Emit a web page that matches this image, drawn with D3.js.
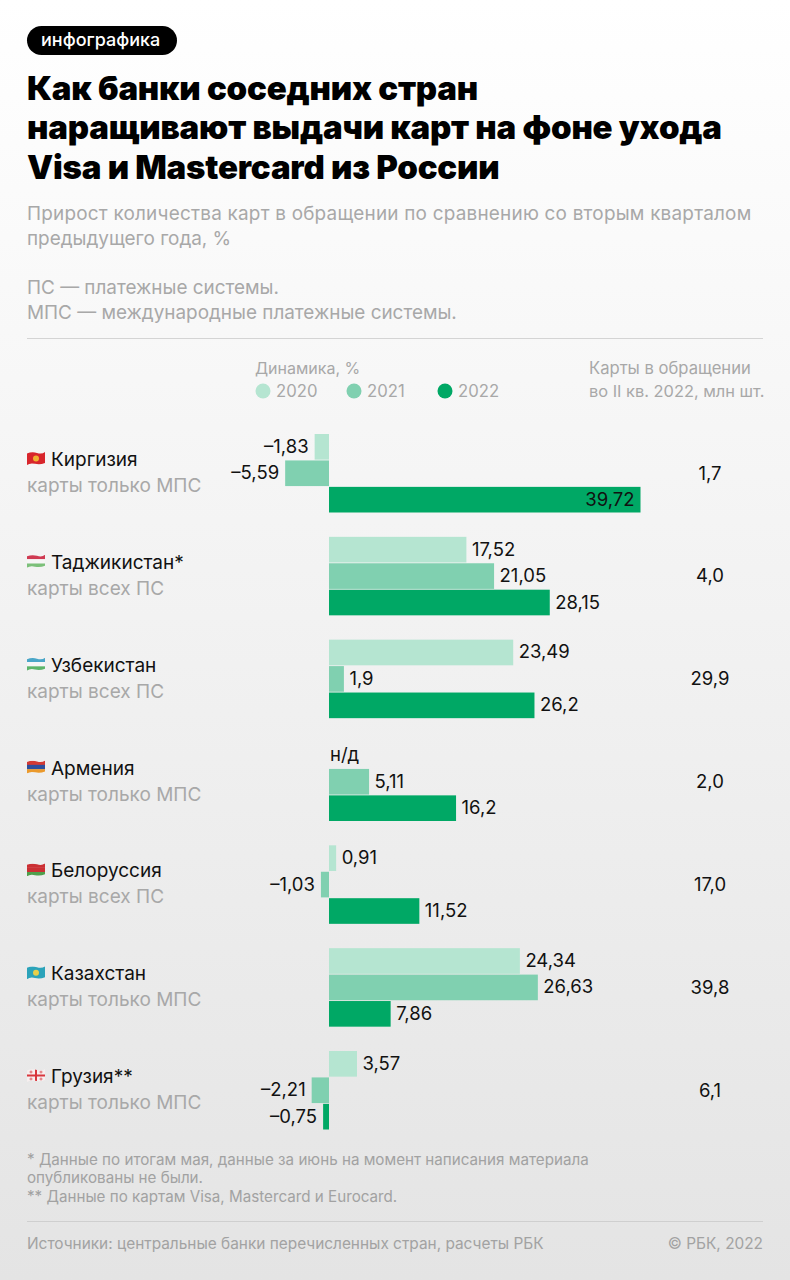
<!DOCTYPE html>
<html>
<head>
<meta charset="utf-8">
<script src="https://cdn.jsdelivr.net/npm/d3@7"></script>
<style>
html, body { margin: 0; padding: 0; background: #fff; }
svg { display: block; }
text { font-family: Inter, "Noto Sans", sans-serif; }
</style>
</head>
<body>
<div id="chart"></div>
<script>
// данные
var countries = ["Киргизия", "Таджикистан*", "Узбекистан", "Армения", "Белоруссия", "Казахстан", "Грузия**"];
var cardTypes = ["карты только МПС", "карты всех ПС", "карты всех ПС", "карты только МПС", "карты всех ПС", "карты только МПС", "карты только МПС"];
var years = ["2020", "2021", "2022"];
var values2020 = [-1.83, 17.52, 23.49, null, 0.91, 24.34, 3.57];
var values2021 = [-5.59, 21.05, 1.9, 5.11, -1.03, 26.63, -2.21];
var values2022 = [39.72, 28.15, 26.2, 16.2, 11.52, 7.86, -0.75];
var cardsInUse = ["1,7", "4,0", "29,9", "2,0", "17,0", "39,8", "6,1"];
var yearColors = ["#b5e5d1", "#80d0b0", "#00a865"];

var W = 790, H = 1280;

var svg = d3.select("#chart").append("svg")
    .attr("width", W)
    .attr("height", H);

var defs = svg.append("defs");

/* фон с градиентом */
var grad = defs.append("linearGradient")
    .attr("id", "bg")
    .attr("x1", 0).attr("y1", 0).attr("x2", 0).attr("y2", 1);
grad.append("stop").attr("offset", "0%").attr("stop-color", "#ffffff");
grad.append("stop").attr("offset", "100%").attr("stop-color", "#e4e4e4");
svg.append("rect").attr("width", W).attr("height", H).attr("fill", "url(#bg)");

/* волнистый контур флага */
defs.append("clipPath").attr("id", "flagWave").append("path")
    .attr("d", "M0 1.5 Q5 -0.5 10 1 T18 0 L18 11 Q13 13 8 11.8 T0 13 Z");

function label(x, y, str, size, color, weight, anchor) {
    return svg.append("text")
        .attr("x", x).attr("y", y)
        .attr("font-size", size)
        .attr("fill", color)
        .attr("font-weight", weight || 400)
        .attr("text-anchor", anchor || "start")
        .text(str);
}

/* плашка */
svg.append("rect").attr("x", 27).attr("y", 26).attr("width", 150).attr("height", 29).attr("rx", 14.5).attr("fill", "#000");
label(41, 46, "инфографика", 18, "#fff", 500);

/* заголовок */
["Как банки соседних стран", "наращивают выдачи карт на фоне ухода", "Visa и Mastercard из России"].forEach(function (t, i) {
    label(27, 99.5 + i * 39.5, t, 33, "#000", 900).attr("letter-spacing", -0.2);
});

/* подзаголовок */
var grey = "#a8a8a8";
label(27, 220, "Прирост количества карт в обращении по сравнению со вторым кварталом", 18.9, grey).attr("letter-spacing", 0.23);
label(27, 245, "предыдущего года, %", 18.9, grey);
label(27, 294, "ПС — платежные системы.", 18.9, grey);
label(27, 319, "МПС — международные платежные системы.", 18.9, grey);

svg.append("line").attr("x1", 27).attr("x2", 763).attr("y1", 338.5).attr("y2", 338.5).attr("stroke", "#d4d4d4");

/* легенда */
label(255, 374, "Динамика, %", 16, grey);
var legendX = d3.scalePoint().domain(years).range([263, 445]);
var legend = svg.selectAll(".lg").data(years).enter().append("g").attr("class", "lg");
legend.append("circle")
    .attr("cx", function (d) { return legendX(d); })
    .attr("cy", 391)
    .attr("r", 7.5)
    .attr("fill", function (d, i) { return yearColors[i]; });
legend.append("text")
    .attr("x", function (d) { return legendX(d) + 13; })
    .attr("y", 397)
    .attr("font-size", 16.7)
    .attr("fill", grey)
    .text(function (d) { return d; });

label(589, 374, "Карты в обращении", 16.6, grey);
label(589, 397, "во II кв. 2022, млн шт.", 16.4, grey);

/* шкалы */
var x = d3.scaleLinear().domain([0, 39.72]).range([329, 640.5]);
var rowY = d3.scalePoint().domain(countries).range([434, 1051]);
var barY = d3.scaleBand().domain(years).range([0, 78.5]).paddingInner(0.03);
var fmt = function (v) { return (v < 0 ? "–" : "") + String(Math.abs(v)).replace(".", ","); };

/* флаги: полосы сверху вниз */
var flagStripes = [
    ["#d8262c"],
    ["#cf3a52", "#f6f6f6", "#7cc07a"],
    ["#4aa6c8", "#f6f6f6", "#5cb56a"],
    ["#d33a34", "#2d4f9e", "#eb9a2c"],
    ["#cb2f33", "#cb2f33", "#4f9f4c"],
    ["#2ba3ba"],
    ["#f7efef"]
];

var rows = svg.selectAll(".row").data(countries).enter().append("g").attr("class", "row");

rows.each(function (c, i) {
    var g = d3.select(this);
    var top = rowY(c);
    var stripes = flagStripes[i];
    var h = 13 / stripes.length;
    var flag = g.append("g").attr("transform", "translate(27," + (top + 18) + ")")
        .attr("clip-path", "url(#flagWave)");
    stripes.forEach(function (col, k) {
        flag.append("rect").attr("y", k * h).attr("width", 18).attr("height", h + 0.2).attr("fill", col);
    });
    if (i === 0 || i === 5) {
        flag.append("circle").attr("cx", 9).attr("cy", 6.5).attr("r", 3).attr("fill", i === 0 ? "#f0b030" : "#e8d04a");
    }
    if (i === 6) {
        flag.append("rect").attr("x", 8).attr("width", 2).attr("height", 13).attr("fill", "#d8363c");
        flag.append("rect").attr("y", 5.5).attr("width", 18).attr("height", 2).attr("fill", "#d8363c");
        [[4, 3], [14, 3], [4, 10], [14, 10]].forEach(function (p) {
            flag.append("rect").attr("x", p[0] - 1.5).attr("y", p[1] - 0.5).attr("width", 3).attr("height", 1).attr("fill", "#e0666a");
            flag.append("rect").attr("x", p[0] - 0.5).attr("y", p[1] - 1.5).attr("width", 1).attr("height", 3).attr("fill", "#e0666a");
        });
    }

    g.append("text").attr("x", 51).attr("y", top + 32).attr("font-size", 19).attr("fill", "#111").text(c);
    g.append("text").attr("x", 27).attr("y", top + 58).attr("font-size", 19).attr("fill", grey).text(cardTypes[i]);
    g.append("text").attr("x", 710).attr("y", top + 45.5).attr("font-size", 18.5).attr("fill", "#111")
        .attr("text-anchor", "middle").text(cardsInUse[i]);

    [values2020[i], values2021[i], values2022[i]].forEach(function (v, k) {
        var yb = top + barY(years[k]);
        var mid = yb + barY.bandwidth() / 2 + 6;
        if (v === null) {
            g.append("text").attr("x", x(0) + 1).attr("y", mid).attr("font-size", 18.5).attr("fill", "#111").text("н/д");
            return;
        }
        g.append("rect")
            .attr("x", Math.min(x(0), x(v)))
            .attr("y", yb)
            .attr("width", Math.abs(x(v) - x(0)))
            .attr("height", barY.bandwidth())
            .attr("fill", yearColors[k]);
        var lbl = g.append("text").attr("y", mid).attr("font-size", 18.5).attr("fill", "#111").text(fmt(v));
        if (v < 0) {
            lbl.attr("x", x(v) - 6).attr("text-anchor", "end");
        } else if (v === d3.max(values2022)) {
            lbl.attr("x", x(v) - 6).attr("text-anchor", "end");
        } else {
            lbl.attr("x", x(v) + 5.5);
        }
    });
});

/* сноски */
var noteGrey = "#a2a2a2";
label(27, 1165, "* Данные по итогам мая, данные за июнь на момент написания материала", 15.2, noteGrey);
label(27, 1183, "опубликованы не были.", 15.2, noteGrey);
label(27, 1202, "** Данные по картам Visa, Mastercard и Eurocard.", 15.2, noteGrey);

svg.append("line").attr("x1", 27).attr("x2", 763).attr("y1", 1221.5).attr("y2", 1221.5).attr("stroke", "#cfcfcf");
label(27, 1249, "Источники: центральные банки перечисленных стран, расчеты РБК", 15.4, noteGrey);
label(763, 1249, "© РБК, 2022", 15.4, noteGrey, 400, "end");
</script>
</body>
</html>
